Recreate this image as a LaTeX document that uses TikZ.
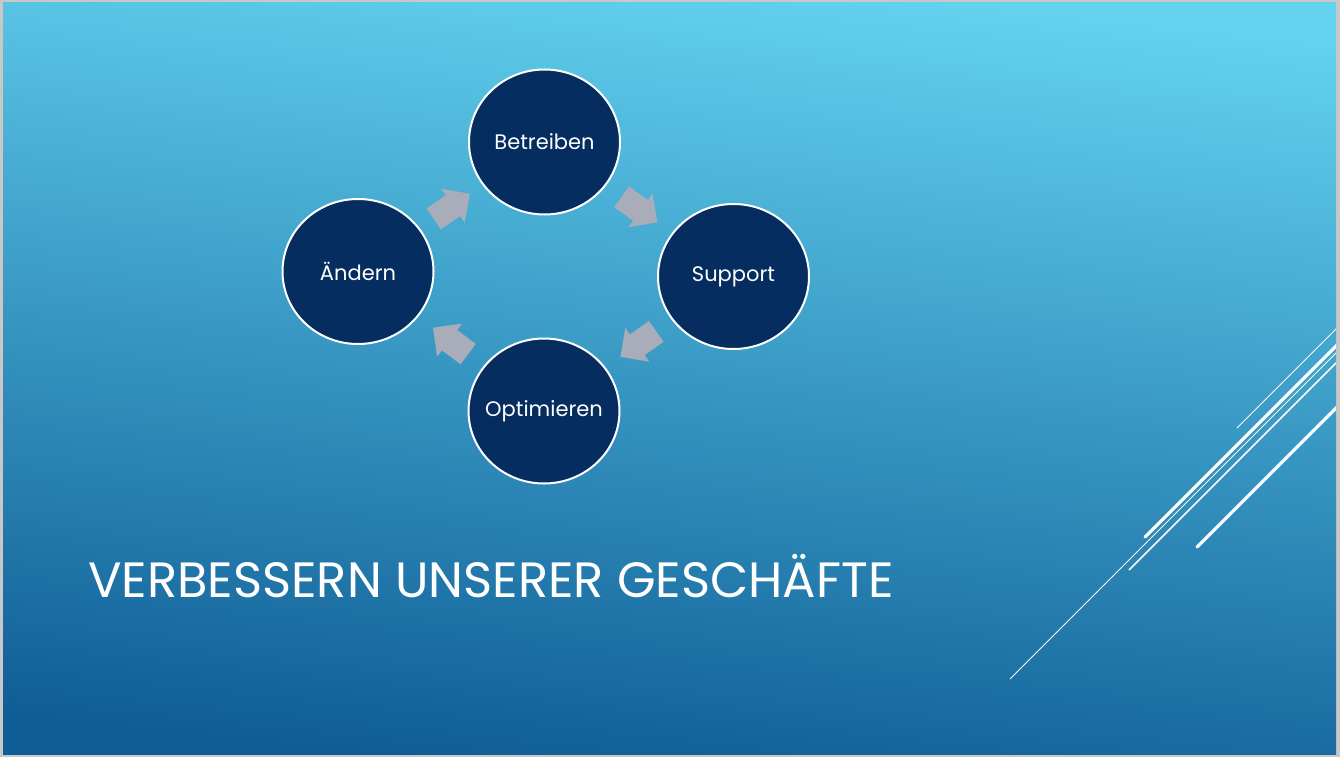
\documentclass[tikz,border=0pt]{standalone}
\usepackage{fontspec}
\setmainfont{Poppins}
\usetikzlibrary{shapes.arrows,shapes.geometric}
\definecolor{framegray}{HTML}{C8C8C8}
\definecolor{bgtop}{HTML}{62D2EF}
\definecolor{bgmid}{HTML}{3EA1CB}
\definecolor{bgbot}{HTML}{0F5D96}
\definecolor{navy}{HTML}{052D5F}
\definecolor{arrowgray}{HTML}{A9ACB9}
\tikzset{
  circ/.style={ellipse, minimum width=151pt, minimum height=145pt, inner sep=0pt,
    fill=navy, draw=white, line width=2pt, text=white, font=\fontsize{21}{25}\selectfont},
  blk/.style={single arrow, pos=0.475, sloped, allow upside down, fill=arrowgray,
    minimum height=44pt, inner xsep=0pt, inner ysep=12.5pt, single arrow head extend=8pt,
    draw=none},
  thinline/.style={white, line width=1pt},
  thickline/.style={white, line width=3.2pt, line cap=round},
}
\begin{document}
\begin{tikzpicture}[x=1pt,y=-1pt]
\useasboundingbox (0,0) rectangle (1340,757);
\fill[framegray] (0,0) rectangle (1340,757);
\shade[top color=bgtop, middle color=bgmid, bottom color=bgbot, shading angle=-6] (3,3) rectangle (1336,754);
\begin{scope}
\clip (3,3) rectangle (1336,754);
\draw[thinline] (1237,428) -- (1345,320);
\draw[thickline] (1145,537) -- (1345,337);
\draw[thinline] (1010,679) -- (1345,344);
\draw[white, line width=1.5pt] (1129,570) -- (1345,354);
\draw[thickline] (1197,547) -- (1345,399);
\end{scope}
\node[circ] (bet) at (544.5,142) {\makebox[0pt]{Betreiben}};
\node[circ] (and) at (358,271.5) {\makebox[0pt]{Ändern}};
\node[circ] (sup) at (733.5,276.5) {\makebox[0pt]{Support}};
\node[circ] (opt) at (544,411) {\makebox[0pt]{Optimieren}};
\path (and.center) -- node[blk] (a1) {} (bet.center);
\path (bet.center) -- node[blk] (a2) {} (sup.center);
\path (sup.center) -- node[blk] (a3) {} (opt.center);
\path (opt.center) -- node[blk] (a4) {} (and.center);
\node[anchor=base west, inner sep=0pt, text=white, font=\fontsize{49.6}{60}\selectfont] (title) at (88,597) {VERBESSERN UNSERER GESCHÄFTE};
\end{tikzpicture}
\end{document}
